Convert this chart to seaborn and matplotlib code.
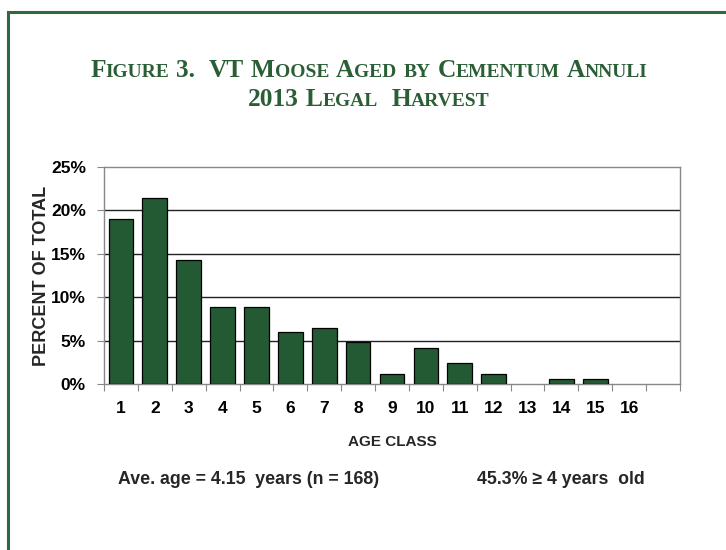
import matplotlib
matplotlib.use("Agg")
import matplotlib.pyplot as plt
import seaborn as sns
import pandas as pd
from matplotlib.patches import Rectangle

# ---- data ----
age_classes = ["1", "2", "3", "4", "5", "6", "7", "8", "9", "10", "11", "12", "13", "14", "15", "16"]
percent_of_total = [19.0, 21.4, 14.3, 8.9, 8.9, 6.0, 6.5, 4.8, 1.2, 4.2, 2.4, 1.2, 0.0, 0.6, 0.6, 0.0]
y_ticks = [0, 5, 10, 15, 20, 25]
y_tick_labels = ["0%", "5%", "10%", "15%", "20%", "25%"]
title_line1 = [("F", "L"), ("IGURE", "S"), (" ", "L"), ("3.", "L"), ("  ", "L"), ("VT", "L"), (" ", "L"),
               ("M", "L"), ("OOSE", "S"), (" ", "L"), ("A", "L"), ("GED", "S"), (" ", "L"), ("BY", "S"),
               (" ", "L"), ("C", "L"), ("EMENTUM", "S"), (" ", "L"), ("A", "L"), ("NNULI", "S")]
title_line2 = [("2013", "L"), (" ", "L"), ("L", "L"), ("EGAL", "S"), ("  ", "L"), ("H", "L"), ("ARVEST", "S")]
x_label = "AGE CLASS"
y_label = "PERCENT OF TOTAL"
footer_left = "Ave. age = 4.15  years (n = 168)"
footer_right = "45.3% \u2265 4 years  old"

df = pd.DataFrame({"age": age_classes, "pct": percent_of_total})

sns.set_theme(style="white")
plt.rcParams["font.family"] = ["Liberation Sans", "DejaVu Sans"]

W, H = 726, 550
fig = plt.figure(figsize=(W / 100, H / 100), dpi=100)
ax = fig.add_axes([104 / W, 1 - 384 / H, (680 - 104) / W, (384 - 167) / H])

sns.barplot(data=df, x="age", y="pct", order=age_classes, color="#245a33",
            edgecolor="black", linewidth=0.9, width=0.73, saturation=1, ax=ax, zorder=3)
for p in ax.patches:
    if p.get_height() == 0:
        p.set_linewidth(0)

ax.set_xlim(-0.5, 16.5)
ax.set_ylim(0, 25)
ax.set_yticks(y_ticks)
ax.set_yticklabels(y_tick_labels, fontsize=12.5, fontweight="bold", color="black")
ax.set_xticks(range(len(age_classes)))
ax.set_xticklabels(age_classes, fontsize=12.5, fontweight="bold", color="black")
ax.set_xticks([i + 0.5 for i in range(-1, 17)], minor=True)
ax.tick_params(axis="x", which="major", length=0, pad=12)
ax.tick_params(axis="x", which="minor", length=5, width=0.8, color="#888888", direction="out", bottom=True)
ax.tick_params(axis="y", which="major", length=5, width=0.8, color="#888888", direction="out", left=True, pad=8)

for v in y_ticks[1:-1]:
    ax.axhline(v, color="#222222", linewidth=1.0, zorder=1)

for s in ["left", "right", "top", "bottom"]:
    ax.spines[s].set_visible(True)
    ax.spines[s].set_color("#888888")
    ax.spines[s].set_linewidth(1.0)

ax.set_xlabel(x_label, fontsize=11, fontweight="bold", labelpad=14)
ax.set_ylabel(y_label, fontsize=13, fontweight="bold", labelpad=1)

# green border box
fig.patches.append(Rectangle((8 / W, -0.05), 1.1, 1 - 12 / H + 0.05, transform=fig.transFigure,
                             fill=False, edgecolor="#2f6a3c", linewidth=2.2))

# small caps title
title_color = "#2a5e35"
big, small = 18.3, 14.0
serif = ["Liberation Serif", "DejaVu Serif"]
fig.canvas.draw()
renderer = fig.canvas.get_renderer()


def draw_smallcaps(segments, y_px):
    texts = []
    widths = []
    for txt, kind in segments:
        size = big if kind == "L" else small
        if txt.strip() == "":
            widths.append(0.27 * size * 100 / 72 * len(txt))
            texts.append(None)
            continue
        t = fig.text(0, 1 - y_px / H, txt, fontsize=size, fontweight="bold", family=serif,
                     color=title_color, ha="left", va="baseline")
        bb = t.get_window_extent(renderer=renderer)
        widths.append(bb.width)
        texts.append(t)
    total = sum(widths)
    x = 369 - total / 2
    for t, w in zip(texts, widths):
        if t is not None:
            t.set_x(x / W)
        x += w


draw_smallcaps(title_line1, 76.5)
draw_smallcaps(title_line2, 105.5)

fig.text(118 / W, 1 - 480 / H, footer_left, fontsize=12.8, fontweight="bold", ha="left", va="center")
fig.text(477 / W, 1 - 480 / H, footer_right, fontsize=12.8, fontweight="bold", ha="left", va="center")

fig.savefig("out.png", dpi=100, facecolor="white")
